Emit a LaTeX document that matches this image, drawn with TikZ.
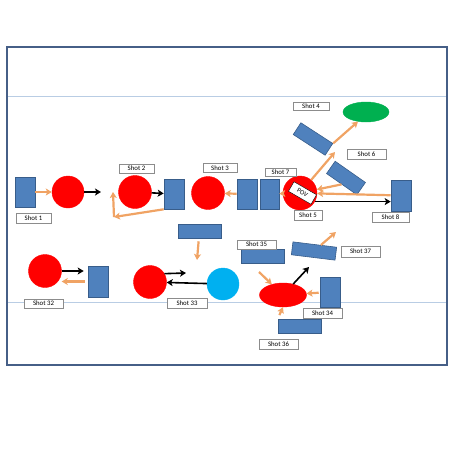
\documentclass[tikz,border=0pt]{standalone}
\usepackage{fontspec}
\setsansfont{Carlito}
\usetikzlibrary{positioning}
\usetikzlibrary{arrows.meta}
\usetikzlibrary{shapes.geometric}
\definecolor{shotblue}{RGB}{79,129,189}
\definecolor{shotedge}{RGB}{56,93,138}
\definecolor{moveorange}{RGB}{240,163,100}
\definecolor{keepgreen}{RGB}{0,176,80}
\definecolor{keepcyan}{RGB}{0,176,240}
\definecolor{pitchedge}{RGB}{70,95,135}
\definecolor{pitchline}{RGB}{185,205,228}
\tikzset{
  shot/.style     = { rectangle, inner sep=0pt, fill=shotblue, draw=shotedge, line width=0.6pt },
  upright/.style  = { shot, minimum width=20pt, minimum height=30pt },
  flat/.style     = { shot, minimum width=43pt, minimum height=14pt },
  player/.style   = { circle, inner sep=0pt, minimum size=33pt, fill=red, draw=red },
  tag/.style      = { rectangle, draw=black!45, fill=white, inner sep=0pt,
                      font=\sffamily\fontsize{6.8}{7}\selectfont,
                      minimum width=39pt, minimum height=10pt },
}
\tikzset{
  move/.style     = { -{Stealth[length=6pt,width=7pt,inset=1.5pt]}, draw=moveorange, line width=2.2pt },
  pass/.style     = { -{Stealth[length=6pt,width=7pt,inset=1.5pt]}, draw=black, line width=1.6pt },
  pitch/.style    = { draw=pitchedge, line width=1.2pt },
  halfway/.style  = { draw=pitchline, line width=0.8pt },
}
\begin{document}
\begin{tikzpicture}[x=1pt,y=-1pt]
  \useasboundingbox (0,0) rectangle (453,453);
  \draw [halfway] (7,96)    -- (447,96);
  \draw [halfway] (7,302.5) -- (447,302.5);
  \draw [pitch]   (7,47) rectangle (447,365);

  % upper half
  \node (r1)    [upright]                       at (25,192)    {};
  \node (c1)    [player,minimum size=32pt]      at (68,192)    {};
  \node (c2)    [player]                        at (135,192)   {};
  \node (r2)    [upright]                       at (174,194)   {};
  \node (c3)    [player]                        at (208,193)   {};
  \node (r3a)   [upright]                       at (247,194)   {};
  \node (r3b)   [upright,minimum width=19pt]    at (269.5,194) {};
  \node (c5)    [player,minimum size=34pt]      at (300,193)   {};
  \node (r8)    [upright,minimum height=31pt]   at (401,195.5) {};
  \node (r4)    [shot,minimum width=38pt,minimum height=14pt,rotate=-33] at (313,139) {};
  \node (r6)    [shot,minimum width=37pt,minimum height=15pt,rotate=-35] at (346,178) {};
  \node (green) [ellipse,inner sep=0pt,minimum width=46pt,minimum height=20pt,
                 fill=keepgreen,draw=keepgreen]  at (366,112)   {};
  \node (rmid)  [flat]                          at (199.5,231) {};

  % lower half
  \node (c32)   [player]                        at (45,271)    {};
  \node (r32)   [upright,minimum height=31pt]   at (98,281.5)  {};
  \node (c33)   [player]                        at (150,282)   {};
  \node (blue)  [player,minimum size=32pt,fill=keepcyan,draw=keepcyan] at (223,284) {};
  \node (r35)   [flat]                          at (262.5,256) {};
  \node (r37)   [shot,minimum width=44pt,minimum height=13pt,rotate=-7] at (314,251) {};
  \node (red)   [ellipse,inner sep=0pt,minimum width=47pt,minimum height=24pt,
                 fill=red,draw=red]              at (283,295)   {};
  \node (r34)   [upright]                       at (330,292)   {};
  \node (r36)   [flat]                          at (299.5,326) {};

  % labels
  \node (t1)  [tag,minimum width=35pt]                    at (33.5,218)   {Shot 1};
  \node (t2)  [tag,minimum width=35pt,minimum height=9pt] at (136.5,168.5) {Shot 2};
  \node (t3)  [tag,minimum width=34pt,minimum height=9pt] at (220,168)     {Shot 3};
  \node (t7)  [tag,minimum width=31pt,minimum height=8pt] at (280.5,172)   {Shot 7};
  \node (t5)  [tag,minimum width=28pt]                    at (308,215)     {Shot 5};
  \node (t4)  [tag,minimum width=36pt,minimum height=8pt] at (311,106)     {Shot 4};
  \node (t6)  [tag]                                       at (366.5,154)   {Shot 6};
  \node (t8)  [tag,minimum width=37pt]                    at (390.5,217)   {Shot 8};
  \node (t32) [tag,minimum height=9pt]                    at (43.5,303.5)  {Shot 32};
  \node (t33) [tag,minimum width=40pt]                    at (187,303)     {Shot 33};
  \node (t35) [tag,minimum height=9pt]                    at (256.5,244.5) {Shot 35};
  \node (t37) [tag,minimum height=11pt]                   at (360.5,251.5) {Shot 37};
  \node (t34) [tag]                                       at (322.5,313)   {Shot 34};
  \node (t36) [tag]                                       at (278.5,344)   {Shot 36};

  % free ends
  \coordinate (pass1)  at (101,192);
  \coordinate (turn2)  at (114,217);
  \coordinate (up2)    at (113,192);
  \coordinate (fwd5)   at (335,152);
  \coordinate (drop)   at (197,260);
  \coordinate (pass33) at (186,273);
  \coordinate (lift37) at (336,232);
  \coordinate (out36)  at (309,267);
  \coordinate (in35)   at (259,272);

  % runs
  \draw [move] (r1)  -- (c1);
  \draw [move] (r2.south west) -- (turn2);
  \draw [move] (turn2) -- (up2);
  \draw [move] (r3a) -- (c3);
  \draw [move] (c5)  -- (r3b);
  \draw [move] (r4.north east) -- (green.230);
  \draw [move] (c5)  -- (fwd5);
  \draw [move] (r6.south) -- (c5);
  \draw [move] (r8)  -- (c5);
  \draw [move,shorten <=3pt] (r32.west) -- (r32.west -| c32.east);
  \draw [move,shorten <=3pt] (rmid) -- (drop);
  \draw [move] (r37) -- (lift37);
  \draw [move] (in35) -- (red);
  \draw [move,shorten <=1pt] (r34) -- (red);
  \draw [move,shorten <=4pt] (r36.north west) -- (red.south);

  % passes
  \draw [pass] (c1)  -- (pass1);
  \draw [pass] (c2)  -- (r2);
  \draw [pass] (c5.-30) -- (c5.-30 -| r8.west);
  \draw [pass,shorten >=4pt] (c32.east) -- (c32.east -| r32.west);
  \draw [pass] (c33.30) -- (pass33);
  \draw [pass] (blue) -- (c33);
  \draw [pass] (red) -- (out36);

  \node (pov)   [draw=black,fill=white,inner sep=0pt,minimum width=26pt,minimum height=11pt,
                 rotate=-30,font=\sffamily\fontsize{6.5}{7}\selectfont] at (302.5,193) {POV};
\end{tikzpicture}
\end{document}
